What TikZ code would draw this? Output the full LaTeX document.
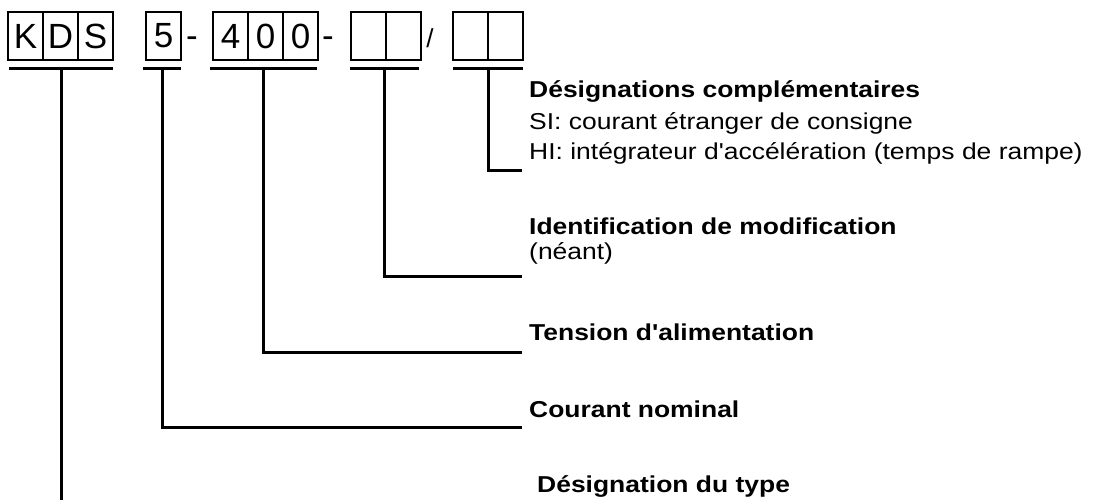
\documentclass[tikz,border=0pt]{standalone}
\usepackage{fontspec}
\setmainfont{Liberation Sans}
% slightly widened face for the explanations, straight apostrophes
\newfontfamily\labfont[FakeStretch=1.15,Ligatures=TeXOff]{Liberation Sans}
\begin{document}
\begin{tikzpicture}[x=1pt,y=-1pt,
  cell/.style={draw,line width=2.5pt,minimum width=35pt,minimum height=48pt,
    inner sep=0pt,font=\fontsize{35}{40}\selectfont},
  bar/.style={line width=3pt},
  lead/.style={line width=3pt},
  sepchar/.style={inner sep=0pt,anchor=base,font=\fontsize{35}{40}\selectfont},
  head/.style={anchor=base west,inner sep=0pt,font=\labfont\fontsize{23}{28}\selectfont\bfseries},
  body/.style={anchor=base west,inner sep=0pt,font=\labfont\fontsize{23}{28}\selectfont}]
\useasboundingbox (0,0) rectangle (1093,499);

% code boxes
\node[cell] (k1) at (25.5,36) {K};
\node[cell] (k2) at (60.5,36) {D};
\node[cell] (k3) at (95.5,36) {S};
\node[cell] (c1) at (163.5,36) {5};
\node[sepchar] (d1) at (192,47) {-};
\node[cell] (v1) at (230.5,36) {4};
\node[cell] (v2) at (265.5,36) {0};
\node[cell] (v3) at (300.5,36) {0};
\node[sepchar] (d2) at (328,47) {-};
\node[cell] (m1) at (368.5,36) {};
\node[cell] (m2) at (403.5,36) {};
\node[sepchar,font=\fontsize{26}{30}\selectfont] (sl) at (430,47) {/};
\node[cell] (z1) at (470.5,36) {};
\node[cell] (z2) at (505.5,36) {};

% brackets under each group
\coordinate (ka) at (9,68);   \coordinate (kb) at (113,68);  \coordinate (ks) at (61,68);
\coordinate (ca) at (143,68); \coordinate (cb) at (181,68);  \coordinate (cs) at (162,68);
\coordinate (va) at (210,68); \coordinate (vb) at (317,68);  \coordinate (vs) at (263.5,68);
\coordinate (ma) at (350,68); \coordinate (mb) at (419,68);  \coordinate (ms) at (384.5,68);
\coordinate (za) at (453,68); \coordinate (zb) at (523,68);  \coordinate (zs) at (488,68);
\draw[bar] (ka) -- (kb);
\draw[bar] (ca) -- (cb);
\draw[bar] (va) -- (vb);
\draw[bar] (ma) -- (mb);
\draw[bar] (za) -- (zb);

% leader end points
\coordinate (ze) at (522,170);
\coordinate (me) at (522,276);
\coordinate (ve) at (522,352);
\coordinate (ce) at (522,427);
\coordinate (ke) at (61,500);

\draw[lead] (zs) |- (ze);
\draw[lead] (ms) |- (me);
\draw[lead] (vs) |- (ve);
\draw[lead] (cs) |- (ce);
\draw[lead] (ks) -- (ke);

% explanations
\node[head] (t1) at (529,97) {Désignations complémentaires};
\node[body] (t1a) at (529,129) {SI: courant étranger de consigne};
\node[body] (t1b) at (529,159) {HI: intégrateur d'accélération (temps de rampe)};
\node[head] (t2) at (529,234) {Identification de modification};
\node[body] (t2a) at (529,259) {(néant)};
\node[head] (t3) at (529,340) {Tension d'alimentation};
\node[head] (t4) at (529,417) {Courant nominal};
\node[head] (t5) at (537,492) {Désignation du type};
\end{tikzpicture}
\end{document}
